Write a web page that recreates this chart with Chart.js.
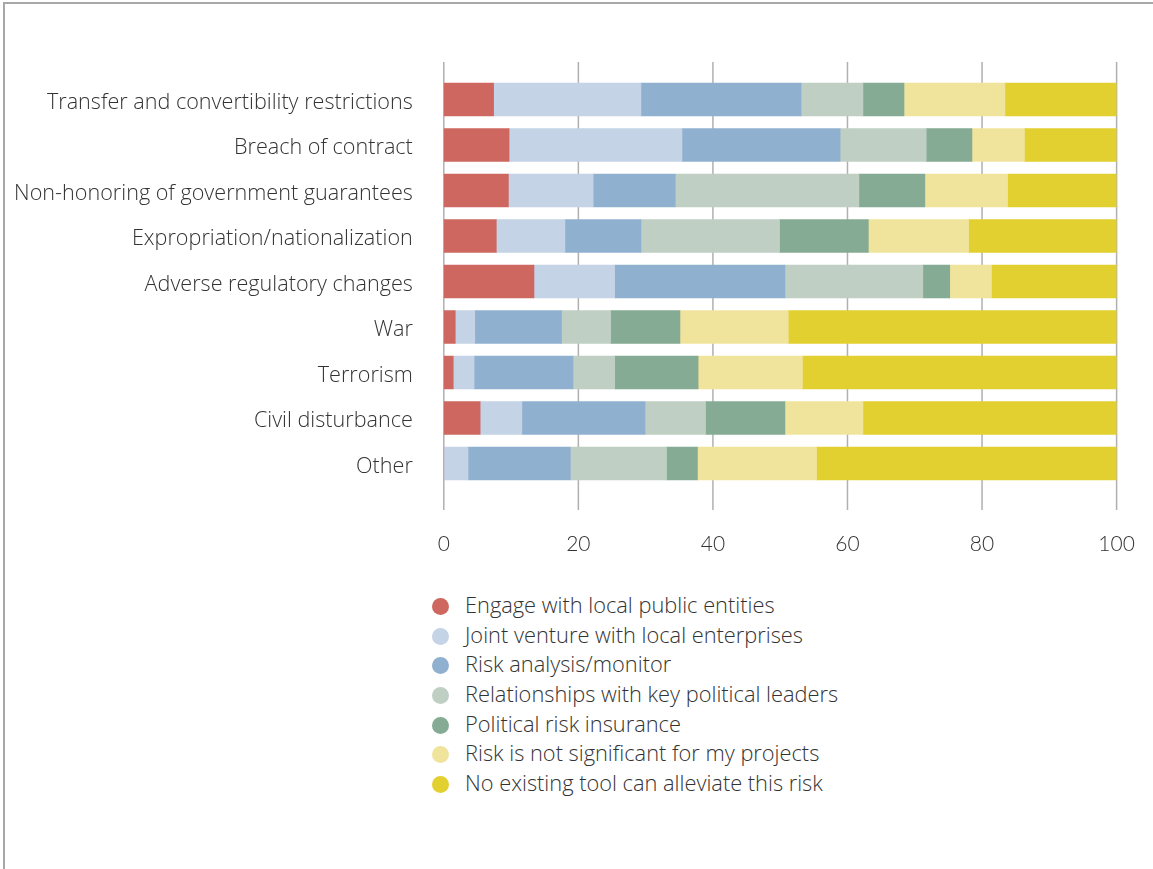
<!DOCTYPE html>
<html>
<head>
<meta charset="utf-8">
<script src="https://cdn.jsdelivr.net/npm/chart.js@4/dist/chart.umd.min.js"></script>
<style>
    body { margin: 0; background: #fff; width: 1153px; height: 869px; overflow: hidden; position: relative; font-family: "Open Sans", sans-serif; }
    .frame { position: absolute; left: 3px; top: 2px; width: 1150px; height: 867px; border-top: 2px solid #a8a8a8; border-left: 2px solid #a8a8a8; box-sizing: border-box; }
    #wrap { position: absolute; left: 0; top: 0; width: 1153px; height: 570px; }
    #legend { position: absolute; left: 432px; top: 590px; margin: 0; padding: 0; list-style: none; }
    #legend li { height: 29.7px; line-height: 29.7px; font-size: 21.8px; font-weight: 300; color: #333; white-space: nowrap; }
    #legend span { display: inline-block; width: 17px; height: 17px; border-radius: 50%; margin-right: 16px; vertical-align: -2px; }
</style>
</head>
<body>
<div class="frame"></div>
<div id="wrap"><canvas id="riskChart"></canvas></div>
<ul id="legend"></ul>
<script>
const categories = [
    'Transfer and convertibility restrictions',
    'Breach of contract',
    'Non-honoring of government guarantees',
    'Expropriation/nationalization',
    'Adverse regulatory changes',
    'War',
    'Terrorism',
    'Civil disturbance',
    'Other'
];

const seriesNames = [
    'Engage with local public entities',
    'Joint venture with local enterprises',
    'Risk analysis/monitor',
    'Relationships with key political leaders',
    'Political risk insurance',
    'Risk is not significant for my projects',
    'No existing tool can alleviate this risk'
];

const engage = [7.4, 9.7, 9.6, 7.8, 13.4, 1.7, 1.4, 5.4, 0];
const jointVenture = [21.9, 25.7, 12.6, 10.2, 12.0, 2.9, 3.1, 6.2, 3.6];
const riskAnalysis = [23.8, 23.5, 12.2, 11.3, 25.3, 12.9, 14.7, 18.3, 15.2];
const relationships = [9.2, 12.8, 27.3, 20.6, 20.5, 7.3, 6.2, 9.0, 14.3];
const insurance = [6.1, 6.8, 9.8, 13.2, 4.0, 10.3, 12.4, 11.8, 4.6];
const notSignificant = [15.0, 7.8, 12.3, 14.9, 6.2, 16.1, 15.5, 11.6, 17.7];
const noTool = [16.6, 13.7, 16.2, 22.0, 18.6, 48.8, 46.7, 37.7, 44.6];

const xTicks = [0, 20, 40, 60, 80, 100];

const colors = ['#cd675f', '#c4d3e6', '#90b0d0', '#bfcfc4', '#85ab95', '#f0e49d', '#e2cf30'];
const allSeries = [engage, jointVenture, riskAnalysis, relationships, insurance, notSignificant, noTool];

// vertical grid lines run past the bars, so draw them ourselves
const gridPlugin = {
    id: 'tallGrid',
    beforeDatasetsDraw(chart) {
        const ctx = chart.ctx;
        const x = chart.scales.x;
        ctx.save();
        ctx.strokeStyle = '#b0b0b0';
        ctx.lineWidth = 1.5;
        xTicks.forEach(t => {
            const px = x.getPixelForValue(t);
            ctx.beginPath();
            ctx.moveTo(px, 62);
            ctx.lineTo(px, 510);
            ctx.stroke();
        });
        ctx.restore();
    }
};

const ctx = document.getElementById('riskChart').getContext('2d');
new Chart(ctx, {
    type: 'bar',
    data: {
        labels: categories,
        datasets: allSeries.map((d, i) => ({
            label: seriesNames[i],
            data: d,
            backgroundColor: colors[i],
            borderWidth: 0,
            barThickness: 33
        }))
    },
    options: {
        indexAxis: 'y',
        responsive: true,
        maintainAspectRatio: false,
        animation: false,
        layout: { padding: { top: 76.75, right: 36.4, left: 0, bottom: 0 } },
        plugins: { legend: { display: false }, tooltip: { enabled: false } },
        scales: {
            x: {
                stacked: true,
                min: 0,
                max: 100,
                grid: { display: false },
                border: { display: false },
                afterFit: s => { s.height = 83.75; s.paddingLeft = 0; s.paddingRight = 0; },
                afterBuildTicks: s => { s.ticks = xTicks.map(v => ({ value: v })); },
                ticks: {
                    padding: 37,
                    color: '#333',
                    font: { family: 'Lato', size: 21, weight: 300 }
                }
            },
            y: {
                stacked: true,
                grid: { display: false },
                border: { display: false },
                afterFit: s => { s.width = 443.8; s.paddingTop = 0; s.paddingBottom = 0; },
                ticks: {
                    padding: 23,
                    labelOffset: 3,
                    color: '#333',
                    font: { family: 'Open Sans', size: 21.6, weight: 300 }
                }
            }
        }
    },
    plugins: [gridPlugin]
});

const legend = document.getElementById('legend');
seriesNames.forEach((name, i) => {
    const li = document.createElement('li');
    li.innerHTML = `<span style="background:${colors[i]}"></span>${name}`;
    legend.appendChild(li);
});
</script>
</body>
</html>
